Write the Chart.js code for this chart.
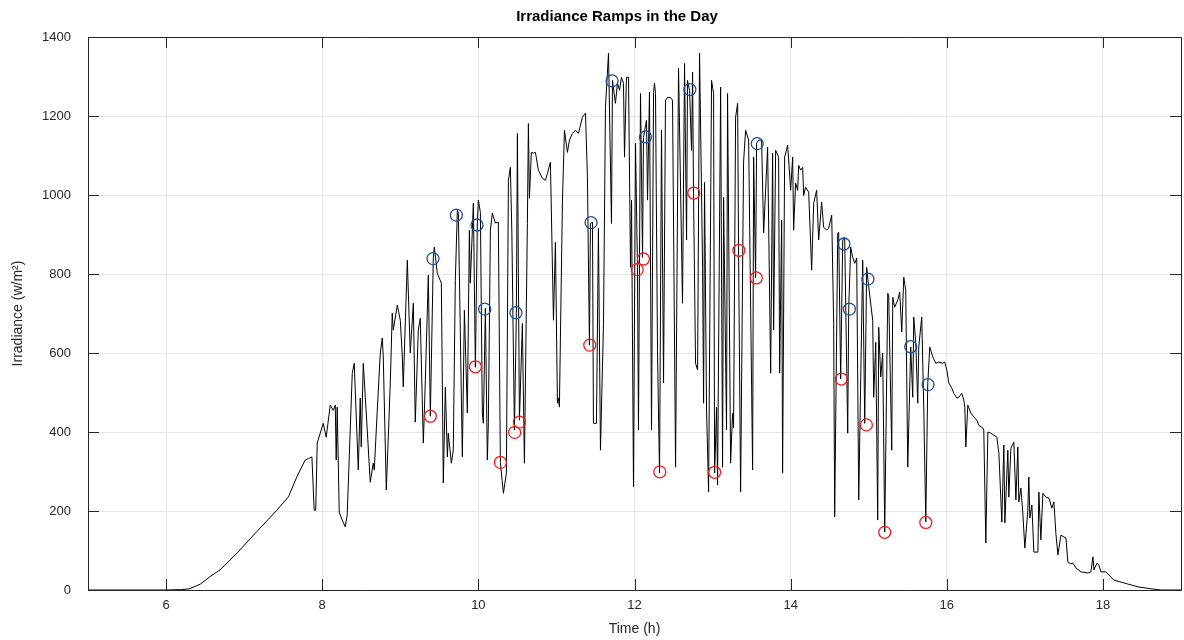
<!DOCTYPE html>
<html lang="en">
<head>
  <meta charset="UTF-8" />
  <title>Irradiance Ramps in the Day</title>
  <script src="https://cdn.jsdelivr.net/npm/chart.js"></script>
  <style>
    html, body {
      margin: 0;
      padding: 0;
      overflow: hidden;
      background: #fff;
      font-family: 'Liberation Sans', Arial, sans-serif;
    }
    canvas { display: block; }
  </style>
</head>
<body>
  <canvas id="rampChart" width="1184" height="640"></canvas>

  <script>
    // irradiance trace (hours, W/m2)
    const timeH = [
      5.0, 6.0, 6.2, 6.3, 6.44, 6.564, 6.692, 6.906, 7.163, 7.419,
      7.568, 7.676, 7.782, 7.825, 7.868, 7.897, 7.917, 7.936, 8.013, 8.051,
      8.103, 8.141, 8.167, 8.179, 8.192, 8.218, 8.256, 8.295, 8.32, 8.385,
      8.41, 8.449, 8.462, 8.487, 8.5, 8.526, 8.577, 8.615, 8.654, 8.667,
      8.705, 8.744, 8.769, 8.782, 8.821, 8.872, 8.897, 8.91, 8.962, 9.0,
      9.026, 9.038, 9.09, 9.128, 9.167, 9.192, 9.231, 9.256, 9.295, 9.321,
      9.359, 9.385, 9.423, 9.436, 9.474, 9.526, 9.551, 9.577, 9.603, 9.615,
      9.654, 9.679, 9.705, 9.731, 9.744, 9.795, 9.821, 9.859, 9.885, 9.897,
      9.936, 9.962, 9.987, 10.0, 10.026, 10.051, 10.064, 10.09, 10.115, 10.128,
      10.154, 10.179, 10.218, 10.256, 10.282, 10.321, 10.359, 10.385, 10.41, 10.429,
      10.462, 10.487, 10.5, 10.526, 10.564, 10.59, 10.628, 10.641, 10.654, 10.679,
      10.705, 10.731, 10.769, 10.821, 10.859, 10.885, 10.923, 10.962, 10.987, 11.013,
      11.026, 11.038, 11.077, 11.103, 11.141, 11.167, 11.205, 11.244, 11.282, 11.333,
      11.372, 11.397, 11.423, 11.436, 11.462, 11.474, 11.513, 11.538, 11.564, 11.603,
      11.628, 11.667, 11.705, 11.718, 11.756, 11.782, 11.808, 11.833, 11.859, 11.872,
      11.897, 11.923, 11.949, 11.962, 11.987, 12.013, 12.038, 12.051, 12.077, 12.103,
      12.115, 12.154, 12.167, 12.192, 12.218, 12.244, 12.256, 12.269, 12.295, 12.308,
      12.321, 12.346, 12.372, 12.397, 12.423, 12.462, 12.487, 12.526, 12.564, 12.615,
      12.641, 12.667, 12.679, 12.705, 12.731, 12.744, 12.756, 12.782, 12.808, 12.833,
      12.872, 12.885, 12.897, 12.923, 12.949, 12.987, 13.013, 13.026, 13.051, 13.064,
      13.103, 13.128, 13.141, 13.179, 13.192, 13.231, 13.256, 13.269, 13.295, 13.321,
      13.333, 13.359, 13.397, 13.423, 13.462, 13.513, 13.526, 13.551, 13.564, 13.59,
      13.628, 13.654, 13.705, 13.744, 13.769, 13.782, 13.808, 13.846, 13.859, 13.885,
      13.897, 13.923, 13.962, 14.0, 14.026, 14.038, 14.064, 14.09, 14.103, 14.128,
      14.154, 14.167, 14.192, 14.231, 14.269, 14.295, 14.333, 14.359, 14.397, 14.423,
      14.462, 14.487, 14.526, 14.551, 14.564, 14.603, 14.615, 14.641, 14.667, 14.692,
      14.731, 14.744, 14.769, 14.795, 14.821, 14.846, 14.872, 14.923, 14.949, 14.974,
      14.987, 15.051, 15.064, 15.09, 15.115, 15.128, 15.154, 15.179, 15.205, 15.244,
      15.256, 15.295, 15.308, 15.333, 15.372, 15.397, 15.423, 15.449, 15.474, 15.5,
      15.538, 15.564, 15.577, 15.603, 15.628, 15.641, 15.679, 15.705, 15.731, 15.756,
      15.782, 15.821, 15.859, 15.897, 15.949, 15.974, 16.0, 16.026, 16.064, 16.09,
      16.128, 16.154, 16.192, 16.218, 16.231, 16.244, 16.269, 16.308, 16.346, 16.385,
      16.41, 16.462, 16.474, 16.5, 16.526, 16.564, 16.603, 16.641, 16.667, 16.705,
      16.731, 16.744, 16.782, 16.795, 16.821, 16.859, 16.885, 16.91, 16.923, 16.949,
      16.974, 17.0, 17.038, 17.051, 17.064, 17.09, 17.115, 17.167, 17.179, 17.205,
      17.231, 17.269, 17.308, 17.346, 17.372, 17.397, 17.423, 17.462, 17.5, 17.526,
      17.551, 17.59, 17.615, 17.654, 17.718, 17.808, 17.846, 17.872, 17.885, 17.923,
      17.949, 17.974, 18.038, 18.077, 18.141, 18.231, 18.321, 18.449, 18.615, 18.744, 19.0
    ];
    const irradiance = [
      0, 0, 1, 3, 15, 34, 51, 93, 148, 202,
      236, 287, 329, 333, 337, 202, 202, 372, 422, 387,
      468, 455, 468, 329, 463, 197, 177, 160, 190, 549,
      574, 372, 304, 486, 362, 574, 405, 273, 321, 304,
      455, 600, 638, 590, 253, 524, 701, 658, 721, 683,
      590, 514, 835, 600, 726, 425, 658, 688, 372, 531,
      797, 440, 840, 868, 802, 777, 271, 514, 337, 397,
      321, 354, 784, 961, 954, 337, 708, 448, 911, 777,
      979, 564, 929, 987, 956, 448, 422, 713, 329, 422,
      911, 954, 929, 931, 323, 245, 296, 1037, 1070, 906,
      405, 703, 1156, 430, 675, 321, 928, 1181, 992, 1108,
      1106, 1108, 1063, 1042, 1037, 1055, 1083, 683, 880, 473,
      486, 463, 987, 1164, 1108, 1139, 1156, 1164, 1156, 1197,
      1207, 1045, 620, 928, 931, 422, 422, 916, 354, 675,
      1222, 1359, 928, 1290, 1232, 1283, 1265, 1298, 1283, 1096,
      1298, 1298, 817, 987, 261, 1131, 817, 405, 1257, 842,
      1146, 1189, 987, 1260, 405, 1260, 1283, 1257, 607, 438,
      296, 1164, 524, 1240, 1247, 1247, 1240, 311, 1321, 726,
      1333, 886, 1290, 1265, 1113, 1311, 1004, 574, 557, 1359,
      817, 473, 1032, 455, 248, 1290, 1257, 296, 463, 266,
      1273, 311, 994, 405, 1257, 321, 448, 410, 1197, 1232,
      860, 248, 1083, 1164, 1139, 304, 1096, 790, 1131, 1139,
      1139, 904, 1121, 549, 1106, 658, 1113, 1096, 549, 936,
      296, 1096, 1126, 1012, 1096, 911, 1030, 1012, 1075, 1063,
      1070, 999, 1020, 1007, 810, 979, 1012, 886, 982, 918,
      911, 916, 949, 675, 185, 903, 906, 534, 886, 893,
      397, 713, 868, 842, 827, 840, 228, 835, 422, 817,
      790, 683, 488, 627, 177, 665, 539, 600, 147, 751,
      746, 354, 741, 716, 734, 754, 653, 792, 759, 311,
      615, 488, 691, 625, 473, 615, 691, 463, 172, 522,
      615, 590, 574, 577, 574, 577, 557, 524, 511, 498,
      486, 488, 498, 481, 463, 362, 468, 448, 438, 430,
      417, 410, 405, 119, 400, 397, 392, 387, 347, 172,
      367, 170, 354, 235, 359, 374, 228, 362, 223, 258,
      195, 106, 202, 286, 182, 215, 96, 96, 248, 127,
      245, 235, 233, 207, 223, 144, 89, 139, 134, 132,
      71, 66, 68, 56, 46, 43, 46, 84, 51, 68,
      63, 46, 46, 38, 25, 20, 15, 8, 3, 0, 0
    ];

    // ramp end points (red) and ramp start points (blue)
    const redTime = [9.385, 9.962, 10.282, 10.465, 10.526, 11.427, 12.035, 12.115, 12.324,
                     12.76, 13.026, 13.337, 13.56, 14.65, 14.97, 15.205, 15.731];
    const redIrr  = [440, 565, 323, 399, 425, 620, 811, 838, 299,
                     1005, 298, 860, 790, 534, 418, 146, 171];
    const blueTime = [9.419, 9.718, 9.983, 10.081, 10.481, 11.444, 11.713, 12.14,
                      12.709, 13.572, 14.683, 14.752, 14.99, 15.538, 15.76];
    const blueIrr  = [839, 949, 924, 711, 702, 930, 1289, 1147,
                      1267, 1130, 876, 711, 787, 616, 520];

    const xTicks = [6, 8, 10, 12, 14, 16, 18];
    const yTicks = [0, 200, 400, 600, 800, 1000, 1200, 1400];

    const toPoints = (xs, ys) => xs.map((x, i) => ({ x, y: ys[i] }));

    const axisColor = '#262626';

    // matlab style box with inward ticks on all four sides
    const boxPlugin = {
      id: 'matlabBox',
      beforeDatasetsDraw(chart) {
        const { ctx, chartArea: a, scales } = chart;
        const tl = 11;
        ctx.save();
        ctx.strokeStyle = axisColor;
        ctx.lineWidth = 1;
        ctx.beginPath();
        ctx.rect(Math.round(a.left) + 0.5, Math.round(a.top) + 0.5,
                 Math.round(a.right - a.left), Math.round(a.bottom - a.top));
        xTicks.forEach(t => {
          const px = Math.round(scales.x.getPixelForValue(t)) + 0.5;
          ctx.moveTo(px, a.bottom); ctx.lineTo(px, a.bottom - tl);
          ctx.moveTo(px, a.top); ctx.lineTo(px, a.top + tl);
        });
        yTicks.forEach(t => {
          const py = Math.round(scales.y.getPixelForValue(t)) + 0.5;
          ctx.moveTo(a.left, py); ctx.lineTo(a.left + tl, py);
          ctx.moveTo(a.right, py); ctx.lineTo(a.right - tl, py);
        });
        ctx.stroke();
        ctx.restore();
      }
    };

    // title drawn by hand so it sits where the original one does
    const titlePlugin = {
      id: 'plotTitle',
      afterDraw(chart) {
        const { ctx } = chart;
        ctx.save();
        ctx.font = 'bold 15px "Liberation Sans", Arial, sans-serif';
        ctx.fillStyle = '#000';
        ctx.textAlign = 'center';
        ctx.textBaseline = 'middle';
        ctx.fillText('Irradiance Ramps in the Day', 617, 17);
        ctx.restore();
      }
    };

    new Chart(document.getElementById('rampChart'), {
      type: 'scatter',
      data: {
        datasets: [
          {
            label: 'Red',
            data: toPoints(redTime, redIrr),
            showLine: false,
            pointRadius: 6,
            pointBorderWidth: 1.3,
            pointBorderColor: '#ee1c1c',
            pointBackgroundColor: 'rgba(0,0,0,0)',
            order: 0
          },
          {
            label: 'Blue',
            data: toPoints(blueTime, blueIrr),
            showLine: false,
            pointRadius: 6,
            pointBorderWidth: 1.3,
            pointBorderColor: '#1f4e9c',
            pointBackgroundColor: 'rgba(0,0,0,0)',
            order: 0
          },
          {
            label: 'Irradiance',
            data: toPoints(timeH, irradiance),
            showLine: true,
            borderColor: '#000',
            borderWidth: 1,
            pointRadius: 0,
            tension: 0,
            order: 1
          }
        ]
      },
      options: {
        responsive: false,
        animation: false,
        layout: { autoPadding: false, padding: { top: 37, right: 3, bottom: 0, left: 0 } },
        plugins: {
          legend: { display: false },
          tooltip: { enabled: false },
          title: { display: false }
        },
        scales: {
          x: {
            type: 'linear',
            min: 5,
            max: 19,
            afterBuildTicks: s => { s.ticks = xTicks.map(v => ({ value: v })); },
            afterFit: s => { s.height = 50; s.paddingLeft = 0; s.paddingRight = 0; },
            grid: { color: '#e6e6e6', drawTicks: false },
            border: { display: false },
            ticks: {
              padding: 8,
              color: axisColor,
              font: { family: 'Liberation Sans', size: 13 },
              callback: v => String(v)
            },
            title: {
              display: true,
              text: 'Time (h)',
              color: axisColor,
              font: { family: 'Liberation Sans', size: 14 },
              padding: { top: 0, bottom: 2 }
            }
          },
          y: {
            min: 0,
            max: 1400,
            afterBuildTicks: s => { s.ticks = yTicks.map(v => ({ value: v })); },
            afterFit: s => { s.width = 88; s.paddingTop = 0; s.paddingBottom = 0; },
            grid: { color: '#e6e6e6', drawTicks: false },
            border: { display: false },
            ticks: {
              padding: 17,
              color: axisColor,
              font: { family: 'Liberation Sans', size: 13 },
              callback: v => String(v)
            },
            title: {
              display: true,
              text: 'Irradiance (w/m²)',
              color: axisColor,
              font: { family: 'Liberation Sans', size: 14 },
              padding: { top: 10, bottom: 0 }
            }
          }
        }
      },
      plugins: [boxPlugin, titlePlugin]
    });
  </script>
</body>
</html>
